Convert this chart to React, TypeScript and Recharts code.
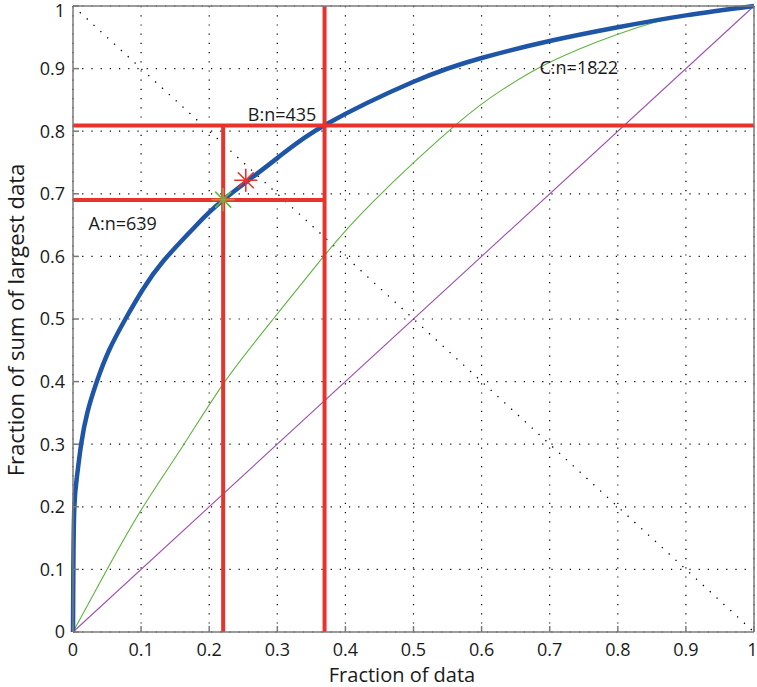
import { CartesianGrid, ComposedChart, Line, Scatter, XAxis, YAxis } from "recharts"

const axisTicks = [0, 0.1, 0.2, 0.3, 0.4, 0.5, 0.6, 0.7, 0.8, 0.9, 1]

// thick blue curve
const blueCurve = [
  { x: 0, y: 0 },
  { x: 0.0005, y: 0.1 },
  { x: 0.002, y: 0.2 },
  { x: 0.006, y: 0.25 },
  { x: 0.012, y: 0.3 },
  { x: 0.021, y: 0.35 },
  { x: 0.035, y: 0.4 },
  { x: 0.053, y: 0.45 },
  { x: 0.077, y: 0.5 },
  { x: 0.103, y: 0.548 },
  { x: 0.133, y: 0.593 },
  { x: 0.177, y: 0.645 },
  { x: 0.2205, y: 0.69 },
  { x: 0.3, y: 0.757 },
  { x: 0.37, y: 0.81 },
  { x: 0.5, y: 0.879 },
  { x: 0.6, y: 0.917 },
  { x: 0.7, y: 0.944 },
  { x: 0.8, y: 0.966 },
  { x: 0.9, y: 0.985 },
  { x: 1, y: 1 },
]

// thin green curve (C)
const greenCurve = [
  { x: 0, y: 0 },
  { x: 0.05, y: 0.1 },
  { x: 0.103, y: 0.2 },
  { x: 0.163, y: 0.3 },
  { x: 0.223, y: 0.4 },
  { x: 0.294, y: 0.5 },
  { x: 0.368, y: 0.6 },
  { x: 0.443, y: 0.69 },
  { x: 0.562, y: 0.81 },
  { x: 0.63, y: 0.866 },
  { x: 0.7, y: 0.91 },
  { x: 0.8, y: 0.955 },
  { x: 0.9, y: 0.986 },
  { x: 1, y: 1 },
]

const equalityLine = [
  { x: 0, y: 0 },
  { x: 1, y: 1 },
]

const antiDiagonal = [
  { x: 0, y: 1 },
  { x: 1, y: 0 },
]

const pointA = { x: 0.2205, y: 0.69 }
const pointB = { x: 0.3694, y: 0.809 }

const redStar = [{ x: 0.2537, y: 0.7216 }]
const greenStar = [{ x: 0.2205, y: 0.6907 }]

const annotations = [
  { x: 0.0228, y: 0.653, text: "A:n=639" },
  { x: 0.2567, y: 0.827, text: "B:n=435" },
  { x: 0.685, y: 0.902, text: "C:n=1822" },
]

const guideLines = [
  [{ x: 0, y: pointB.y }, { x: 1, y: pointB.y }],
  [{ x: pointB.x, y: 0 }, { x: pointB.x, y: 1 }],
  [{ x: 0, y: pointA.y }, { x: pointB.x, y: pointA.y }],
  [{ x: pointA.x, y: 0 }, { x: pointA.x, y: pointB.y }],
]

const FONT = "'Open Sans', 'DejaVu Sans', sans-serif"
const AXIS = "#7a7a7a"
const RED = "#e8332c"
const INK = "#1a1a1a"

const fmt = (v: number) => String(Number(v.toFixed(1)))

const Asterisk = (plusColor: string, xColor: string) => (props: any) => {
  const { cx, cy } = props
  const r = 11
  const d = 7.5
  return (
    <g strokeWidth={1.6} strokeLinecap="round">
      <line x1={cx - r} y1={cy} x2={cx + r} y2={cy} stroke={plusColor} />
      <line x1={cx} y1={cy - r} x2={cx} y2={cy + r} stroke={plusColor} />
      <line x1={cx - d} y1={cy - d} x2={cx + d} y2={cy + d} stroke={xColor} />
      <line x1={cx - d} y1={cy + d} x2={cx + d} y2={cy - d} stroke={xColor} />
    </g>
  )
}

const TextMark = (props: any) => (
  <text x={props.cx} y={props.cy} dominantBaseline="central" fontSize={18} fontFamily={FONT} fill={INK}>
    {props.payload.text}
  </text>
)

export default function App() {
  const tickStyle = { fontSize: 18, fontFamily: FONT, fill: INK }
  return (
    <div style={{ width: 757, height: 687, background: "#fff" }}>
      <style>{`body{margin:0}`}</style>
      <ComposedChart width={757} height={687} margin={{ top: 5, right: 2, bottom: 0, left: 0 }}>
        <CartesianGrid stroke="#000" strokeDasharray="1.2 8" strokeWidth={1.2} />
        <XAxis
          type="number"
          dataKey="x"
          domain={[0, 1]}
          ticks={axisTicks}
          tickFormatter={fmt}
          height={55}
          stroke={AXIS}
          strokeWidth={1.5}
          tickSize={-6}
          tickMargin={17}
          tick={tickStyle}
          label={{
            content: () => (
              <text x={402} y={681.5} textAnchor="middle" fontSize={20} fontFamily={FONT} fill={INK}>
                Fraction of data
              </text>
            ),
          }}
        />
        <XAxis
          xAxisId="top"
          orientation="top"
          type="number"
          domain={[0, 1]}
          ticks={axisTicks}
          height={1}
          stroke={AXIS}
          strokeWidth={1.5}
          tickSize={-6}
          tick={false}
        />
        <YAxis
          type="number"
          domain={[0, 1]}
          ticks={axisTicks}
          tickFormatter={fmt}
          width={73}
          stroke={AXIS}
          strokeWidth={1.5}
          tickSize={-6}
          tickMargin={14}
          tick={tickStyle}
          label={{
            content: () => (
              <text
                x={15}
                y={320}
                transform="rotate(-90 15 320)"
                textAnchor="middle"
                dominantBaseline="central"
                fontSize={22}
                fontFamily={FONT}
                fill={INK}
              >
                Fraction of sum of largest data
              </text>
            ),
          }}
        />
        <YAxis
          yAxisId="right"
          orientation="right"
          type="number"
          domain={[0, 1]}
          ticks={axisTicks}
          width={1}
          stroke={AXIS}
          strokeWidth={1.5}
          tickSize={-6}
          tick={false}
        />
        <Line
          data={antiDiagonal}
          dataKey="y"
          type="linear"
          stroke="#000"
          strokeWidth={1.3}
          strokeDasharray="1.3 8"
          dot={false}
          isAnimationActive={false}
        />
        <Line
          data={equalityLine}
          dataKey="y"
          type="linear"
          stroke="#9d4fae"
          strokeWidth={1.1}
          dot={false}
          isAnimationActive={false}
        />
        <Line
          data={greenCurve}
          dataKey="y"
          type="natural"
          stroke="#5cb43c"
          strokeWidth={1.1}
          dot={false}
          isAnimationActive={false}
        />
        <Line
          data={blueCurve}
          dataKey="y"
          type="natural"
          stroke="#1f55a6"
          strokeWidth={4.5}
          dot={false}
          isAnimationActive={false}
        />
        {guideLines.map((seg, i) => (
          <Line
            key={i}
            data={seg}
            dataKey="y"
            type="linear"
            stroke={RED}
            strokeWidth={4}
            dot={false}
            isAnimationActive={false}
          />
        ))}
        <Scatter data={redStar} dataKey="y" shape={Asterisk(RED, RED)} isAnimationActive={false} />
        <Scatter data={greenStar} dataKey="y" shape={Asterisk("#b9923f", "#62b846")} isAnimationActive={false} />
        <Scatter data={annotations} dataKey="y" shape={TextMark} isAnimationActive={false} />
      </ComposedChart>
    </div>
  )
}
